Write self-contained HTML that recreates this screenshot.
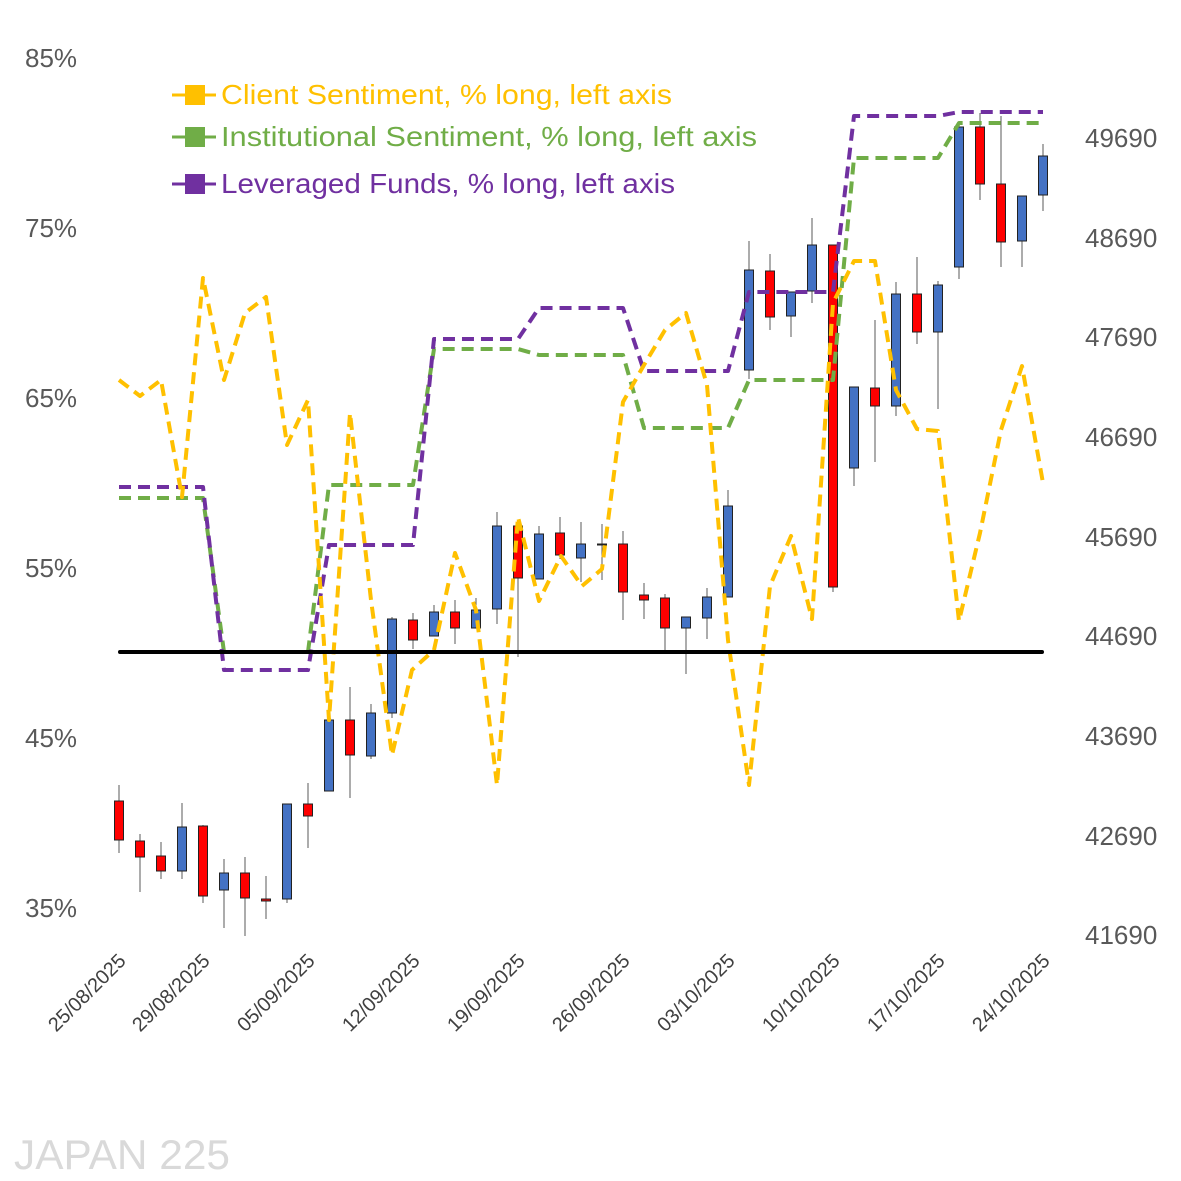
<!DOCTYPE html>
<html><head><meta charset="utf-8"><style>
html,body{margin:0;padding:0;background:#fff;}
svg{display:block;font-family:"Liberation Sans",sans-serif;}
</style></head><body>
<svg width="1181" height="1181" viewBox="0 0 1181 1181" xmlns="http://www.w3.org/2000/svg">
<rect width="1181" height="1181" fill="#fff"/>
<g font-size="26" fill="#595959">
<text x="25" y="67">85%</text><text x="25" y="237">75%</text><text x="25" y="407">65%</text>
<text x="25" y="577">55%</text><text x="25" y="747">45%</text><text x="25" y="917">35%</text>
<text x="1085" y="147">49690</text><text x="1085" y="247">48690</text><text x="1085" y="346">47690</text>
<text x="1085" y="446">46690</text><text x="1085" y="546">45690</text><text x="1085" y="645">44690</text>
<text x="1085" y="745">43690</text><text x="1085" y="845">42690</text><text x="1085" y="944">41690</text>
</g>
<g stroke="#595959" stroke-width="1">
<line x1="119" y1="785" x2="119" y2="853"/><line x1="140" y1="834" x2="140" y2="892"/><line x1="161" y1="842" x2="161" y2="879"/>
<line x1="182" y1="803" x2="182" y2="879"/><line x1="203" y1="825" x2="203" y2="903"/><line x1="224" y1="859" x2="224" y2="928"/>
<line x1="245" y1="857" x2="245" y2="936"/><line x1="266" y1="876" x2="266" y2="919"/><line x1="287" y1="804" x2="287" y2="903"/>
<line x1="308" y1="783" x2="308" y2="848"/><line x1="350" y1="687" x2="350" y2="798"/><line x1="371" y1="704" x2="371" y2="759"/>
<line x1="392" y1="617" x2="392" y2="718"/><line x1="413" y1="613" x2="413" y2="649"/><line x1="434" y1="605" x2="434" y2="636"/>
<line x1="455" y1="600" x2="455" y2="644"/><line x1="476" y1="598" x2="476" y2="628"/><line x1="497" y1="512" x2="497" y2="624"/>
<line x1="518" y1="526" x2="518" y2="657"/><line x1="539" y1="526" x2="539" y2="579"/><line x1="560" y1="517" x2="560" y2="559"/>
<line x1="581" y1="522" x2="581" y2="582"/><line x1="602" y1="524" x2="602" y2="580"/><line x1="623" y1="531" x2="623" y2="620"/>
<line x1="644" y1="583" x2="644" y2="619"/><line x1="665" y1="594" x2="665" y2="651"/><line x1="686" y1="617" x2="686" y2="674"/>
<line x1="707" y1="588" x2="707" y2="639"/><line x1="728" y1="490" x2="728" y2="597"/><line x1="749" y1="241" x2="749" y2="379"/>
<line x1="770" y1="254" x2="770" y2="330"/><line x1="791" y1="292" x2="791" y2="337"/><line x1="812" y1="218" x2="812" y2="303"/>
<line x1="833" y1="245" x2="833" y2="592"/><line x1="854" y1="387" x2="854" y2="486"/><line x1="875" y1="320" x2="875" y2="462"/>
<line x1="896" y1="282" x2="896" y2="416"/><line x1="917" y1="257" x2="917" y2="344"/><line x1="938" y1="281" x2="938" y2="409"/>
<line x1="959" y1="127" x2="959" y2="279"/><line x1="980" y1="113" x2="980" y2="200"/><line x1="1001" y1="116" x2="1001" y2="267"/>
<line x1="1022" y1="196" x2="1022" y2="267"/><line x1="1043" y1="144" x2="1043" y2="211"/>
</g>
<g stroke="#222" stroke-width="1">
<g fill="#FF0000">
<rect x="114.5" y="801" width="9" height="39"/><rect x="135.5" y="841" width="9" height="16"/><rect x="156.5" y="856" width="9" height="15"/>
<rect x="198.5" y="826" width="9" height="70"/><rect x="240.5" y="873" width="9" height="25"/><rect x="261.5" y="899" width="9" height="2"/>
<rect x="303.5" y="804" width="9" height="12"/><rect x="345.5" y="720" width="9" height="35"/><rect x="408.5" y="620" width="9" height="20"/>
<rect x="450.5" y="612" width="9" height="16"/><rect x="513.5" y="526" width="9" height="52"/><rect x="555.5" y="533" width="9" height="22"/>
<rect x="597.5" y="544" width="9" height="1"/><rect x="618.5" y="544" width="9" height="48"/><rect x="639.5" y="595" width="9" height="5"/>
<rect x="660.5" y="598" width="9" height="30"/><rect x="765.5" y="271" width="9" height="46"/><rect x="828.5" y="245" width="9" height="342"/>
<rect x="870.5" y="388" width="9" height="18"/><rect x="912.5" y="294" width="9" height="38"/><rect x="975.5" y="127" width="9" height="57"/>
<rect x="996.5" y="184" width="9" height="58"/>
</g>
<g fill="#4472C4">
<rect x="177.5" y="827" width="9" height="44"/><rect x="219.5" y="873" width="9" height="17"/><rect x="282.5" y="804" width="9" height="95"/>
<rect x="324.5" y="720" width="9" height="71"/><rect x="366.5" y="713" width="9" height="43"/><rect x="387.5" y="619" width="9" height="94"/>
<rect x="429.5" y="612" width="9" height="24"/><rect x="471.5" y="610" width="9" height="18"/><rect x="492.5" y="526" width="9" height="83"/>
<rect x="534.5" y="534" width="9" height="45"/><rect x="576.5" y="544" width="9" height="14"/><rect x="681.5" y="617" width="9" height="11"/>
<rect x="702.5" y="597" width="9" height="21"/><rect x="723.5" y="506" width="9" height="91"/><rect x="744.5" y="270" width="9" height="100"/>
<rect x="786.5" y="292" width="9" height="24"/><rect x="807.5" y="245" width="9" height="46"/><rect x="849.5" y="387" width="9" height="81"/>
<rect x="891.5" y="294" width="9" height="112"/><rect x="933.5" y="285" width="9" height="47"/><rect x="954.5" y="127" width="9" height="140"/>
<rect x="1017.5" y="196" width="9" height="45"/><rect x="1038.5" y="156" width="9" height="39"/>
</g>
</g>
<g fill="none" stroke-width="4" stroke-dasharray="12,7" stroke-linejoin="round">
<polyline stroke="#70AD47" points="119,498 203,498 224,652 308,652 329,485 413,485 434,349 518,349 539,355 623,355 644,428 728,428 749,380 833,380 854,158 938,158 959,123 1043,123"/>
<polyline stroke="#7030A0" points="119,487 203,487 224,670 308,670 329,545 413,545 434,339 518,339 539,308 623,308 644,371 728,371 749,292 833,292 854,116 938,116 959,112 1043,112"/>
<polyline stroke="#FFC000" points="119,380 140,396 161,380 182,497 203,278 224,380 245,313 266,297 287,445 308,400 329,720 350,413 371,600 392,755 412,670 434,650 455,553 476,610 497,785 518,517 539,601 561,556 582,586 602,569 623,402 644,365 665,330 686,313 707,385 728,640 749,785 770,586 791,536 812,619 833,303 854,261 875,261 896,390 917,429 938,431 959,621 980,533 1001,430 1022,366 1043,483"/>
</g>
<line x1="120" y1="652" x2="1042" y2="652" stroke="#000" stroke-width="4" stroke-linecap="round"/>
<g font-size="20" fill="#404040">
<text transform="translate(127,962) rotate(-45)" text-anchor="end">25/08/2025</text>
<text transform="translate(211,962) rotate(-45)" text-anchor="end">29/08/2025</text>
<text transform="translate(316,962) rotate(-45)" text-anchor="end">05/09/2025</text>
<text transform="translate(421,962) rotate(-45)" text-anchor="end">12/09/2025</text>
<text transform="translate(526,962) rotate(-45)" text-anchor="end">19/09/2025</text>
<text transform="translate(631,962) rotate(-45)" text-anchor="end">26/09/2025</text>
<text transform="translate(736,962) rotate(-45)" text-anchor="end">03/10/2025</text>
<text transform="translate(841,962) rotate(-45)" text-anchor="end">10/10/2025</text>
<text transform="translate(946,962) rotate(-45)" text-anchor="end">17/10/2025</text>
<text transform="translate(1051,962) rotate(-45)" text-anchor="end">24/10/2025</text>
</g>
<g font-size="28">
<line x1="172" y1="95" x2="216" y2="95" stroke="#FFC000" stroke-width="3"/><rect x="185" y="85" width="20" height="20" fill="#FFC000"/>
<text x="221" y="104" fill="#FFC000" textLength="451" lengthAdjust="spacingAndGlyphs">Client Sentiment, % long, left axis</text>
<line x1="172" y1="137" x2="216" y2="137" stroke="#70AD47" stroke-width="3"/><rect x="185" y="127" width="20" height="20" fill="#70AD47"/>
<text x="221" y="146" fill="#70AD47" textLength="536" lengthAdjust="spacingAndGlyphs">Institutional Sentiment, % long, left axis</text>
<line x1="172" y1="184" x2="216" y2="184" stroke="#7030A0" stroke-width="3"/><rect x="185" y="174" width="20" height="20" fill="#7030A0"/>
<text x="221" y="193" fill="#7030A0" textLength="454" lengthAdjust="spacingAndGlyphs">Leveraged Funds, % long, left axis</text>
</g>
<text x="14" y="1169" font-size="42" fill="#D9D9D9" textLength="216" lengthAdjust="spacingAndGlyphs">JAPAN 225</text>
</svg>
</body></html>
